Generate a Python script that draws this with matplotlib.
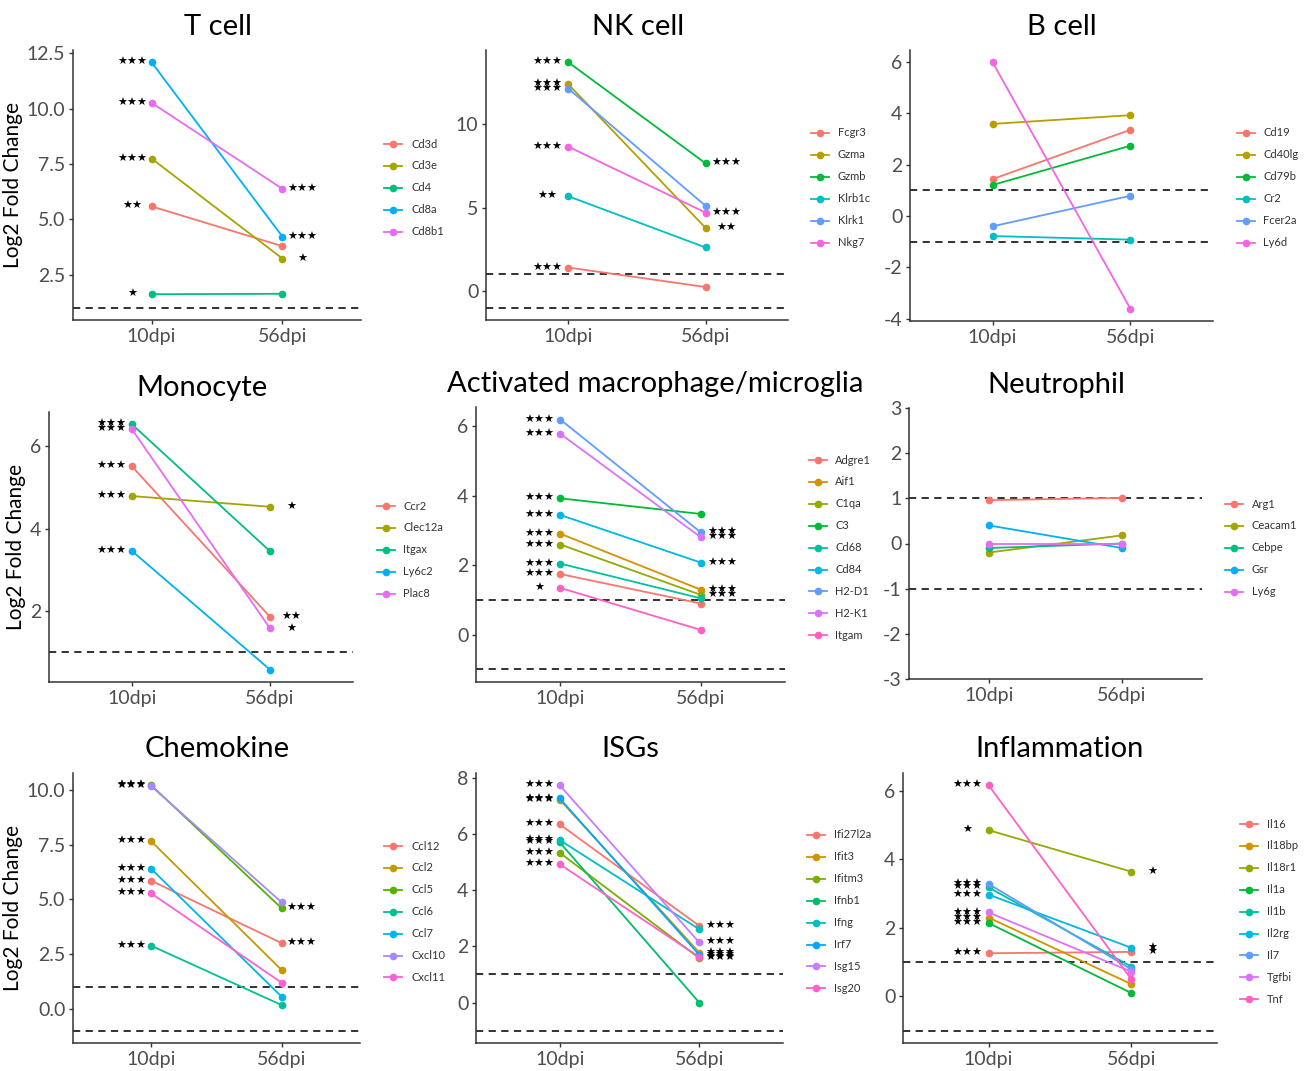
import matplotlib
matplotlib.use("Agg")
import matplotlib.pyplot as plt
from matplotlib.lines import Line2D

plt.rcParams["font.family"] = ["Lato", "DejaVu Sans"]

W, H = 1314, 1071
timepoints = ["10dpi", "56dpi"]

# ---- data (log2 fold change at 10dpi / 56dpi, significance stars) ----
tcell_genes = ["Cd3d", "Cd3e", "Cd4", "Cd8a", "Cd8b1"]
tcell_10 = [5.58, 7.74, 1.61, 12.09, 10.26]
tcell_56 = [3.78, 3.22, 1.63, 4.21, 6.37]
tcell_sig10 = ["**", "***", "*", "***", "***"]
tcell_sig56 = ["", "*", "", "***", "***"]

nk_genes = ["Fcgr3", "Gzma", "Gzmb", "Klrb1c", "Klrk1", "Nkg7"]
nk_10 = [1.41, 12.39, 13.71, 5.68, 12.13, 8.65]
nk_56 = [0.24, 3.78, 7.65, 2.61, 5.10, 4.70]
nk_sig10 = ["***", "***", "***", "**", "***", "***"]
nk_sig56 = ["", "**", "***", "", "", "***"]

bcell_genes = ["Cd19", "Cd40lg", "Cd79b", "Cr2", "Fcer2a", "Ly6d"]
bcell_10 = [1.44, 3.59, 1.21, -0.78, -0.40, 5.99]
bcell_56 = [3.36, 3.93, 2.74, -0.92, 0.79, -3.61]
bcell_sig10 = ["", "", "", "", "", ""]
bcell_sig56 = ["", "", "", "", "", ""]

mono_genes = ["Ccr2", "Clec12a", "Itgax", "Ly6c2", "Plac8"]
mono_10 = [5.51, 4.79, 6.53, 3.46, 6.41]
mono_56 = [1.86, 4.53, 3.45, 0.58, 1.58]
mono_sig10 = ["***", "***", "***", "***", "***"]
mono_sig56 = ["**", "*", "", "", "*"]

mac_genes = ["Adgre1", "Aif1", "C1qa", "C3", "Cd68", "Cd84", "H2-D1", "H2-K1", "Itgam"]
mac_10 = [1.75, 2.91, 2.60, 3.93, 2.05, 3.45, 6.20, 5.79, 1.35]
mac_56 = [0.90, 1.30, 1.15, 3.48, 1.05, 2.08, 2.95, 2.81, 0.14]
mac_sig10 = ["***", "***", "***", "***", "***", "***", "***", "***", "*"]
mac_sig56 = ["", "***", "***", "", "", "***", "***", "***", ""]

neut_genes = ["Arg1", "Ceacam1", "Cebpe", "Gsr", "Ly6g"]
neut_10 = [0.96, -0.20, -0.10, 0.40, 0.00]
neut_56 = [1.01, 0.18, 0.00, -0.10, 0.00]
neut_sig10 = ["", "", "", "", ""]
neut_sig56 = ["", "", "", "", ""]

chemo_genes = ["Ccl12", "Ccl2", "Ccl5", "Ccl6", "Ccl7", "Cxcl10", "Cxcl11"]
chemo_10 = [5.85, 7.65, 10.21, 2.88, 6.39, 10.17, 5.27]
chemo_56 = [3.00, 1.77, 4.59, 0.17, 0.55, 4.86, 1.19]
chemo_sig10 = ["***", "***", "***", "***", "***", "***", "***"]
chemo_sig56 = ["***", "", "***", "", "", "", ""]

isg_genes = ["Ifi27l2a", "Ifit3", "Ifitm3", "Ifnb1", "Ifng", "Irf7", "Isg15", "Isg20"]
isg_10 = [6.34, 7.22, 5.33, 5.70, 5.78, 7.26, 7.73, 4.92]
isg_56 = [2.73, 1.78, 1.58, 0.00, 2.61, 1.70, 2.14, 1.62]
isg_sig10 = ["***", "***", "***", "***", "***", "***", "***", "***"]
isg_sig56 = ["***", "***", "***", "", "", "***", "***", "***"]

infl_genes = ["Il16", "Il18bp", "Il18r1", "Il1a", "Il1b", "Il2rg", "Il7", "Tgfbi", "Tnf"]
infl_10 = [1.26, 2.30, 4.85, 2.14, 3.18, 2.97, 3.28, 2.45, 6.16]
infl_56 = [1.30, 0.36, 3.64, 0.10, 0.87, 1.42, 0.79, 0.72, 0.50]
infl_sig10 = ["***", "***", "*", "***", "***", "***", "***", "***", "***"]
infl_sig56 = ["*", "", "*", "", "", "*", "", "", ""]

# ggplot2 default hue palettes
hue = {
    5: ["#F8766D", "#A3A500", "#00BF7D", "#00B0F6", "#E76BF3"],
    6: ["#F8766D", "#B79F00", "#00BA38", "#00BFC4", "#619CFF", "#F564E3"],
    7: ["#F8766D", "#C49A00", "#53B400", "#00C094", "#00B6EB", "#A58AFF", "#FB61D7"],
    8: ["#F8766D", "#CD9600", "#7CAE00", "#00BE67", "#00BFC4", "#00A9FF", "#C77CFF", "#FF61CC"],
    9: ["#F8766D", "#D39200", "#93AA00", "#00BA38", "#00C19F", "#00B9E3", "#619CFF", "#DB72FB", "#FF61C3"],
}

# title, data, hlines, yticks, tick fmt, ylim override, axes box px, title (x, baseline), legend (key x, text x, first y), ylabel
panels = [
    ("T cell", tcell_genes, tcell_10, tcell_56, tcell_sig10, tcell_sig56, [1],
     [2.5, 5, 7.5, 10, 12.5], "{:.1f}", None, (73, 50, 361, 320), (218, 35), (393, 412, 144), True),
    ("NK cell", nk_genes, nk_10, nk_56, nk_sig10, nk_sig56, [1, -1],
     [0, 5, 10], "{:g}", None, (486, 50, 788, 320), (638, 35), (820, 838, 133), False),
    ("B cell", bcell_genes, bcell_10, bcell_56, bcell_sig10, bcell_sig56, [1, -1],
     [-4, -2, 0, 2, 4, 6], "{:g}", None, (910, 50, 1213, 321), (1062, 35), (1246, 1263, 133), False),
    ("Monocyte", mono_genes, mono_10, mono_56, mono_sig10, mono_sig56, [1],
     [2, 4, 6], "{:g}", None, (49, 412, 353, 682), (202, 396), (386, 403, 506), True),
    ("Activated macrophage/microglia", mac_genes, mac_10, mac_56, mac_sig10, mac_sig56, [1, -1],
     [0, 2, 4, 6], "{:g}", None, (476, 407, 785, 682), (655, 392), (818, 835, 460), False),
    ("Neutrophil", neut_genes, neut_10, neut_56, neut_sig10, neut_sig56, [1, -1],
     [-3, -2, -1, 0, 1, 2, 3], "{:g}", (-3, 3), (909, 408, 1202, 679), (1056, 393), (1234, 1252, 504), False),
    ("Chemokine", chemo_genes, chemo_10, chemo_56, chemo_sig10, chemo_sig56, [1, -1],
     [0, 2.5, 5, 7.5, 10], "{:.1f}", None, (73, 773, 360, 1043), (217, 757), (393, 411, 846), True),
    ("ISGs", isg_genes, isg_10, isg_56, isg_sig10, isg_sig56, [1, -1],
     [0, 2, 4, 6, 8], "{:g}", None, (476, 773, 783, 1043), (630, 757), (816, 834, 835), False),
    ("Inflammation", infl_genes, infl_10, infl_56, infl_sig10, infl_sig56, [1, -1],
     [0, 2, 4, 6], "{:g}", None, (903, 773, 1217, 1043), (1060, 757), (1249, 1267, 824), False),
]

fig = plt.figure(figsize=(W / 100, H / 100), dpi=100)

for (title, genes, v10, v56, s10, s56, hlines, yticks, fmt, ylim,
     box, tpos, lpos, ylab) in panels:
    l, t, r, b = box
    ax = fig.add_axes([l / W, 1 - b / H, (r - l) / W, (b - t) / H])
    cols = hue[len(genes)]
    for g, a, c, sa, sc, col in zip(genes, v10, v56, s10, s56, cols):
        ax.plot([1, 2], [a, c], color=col, lw=1.3, marker="o", ms=4.5, zorder=3)
        if sa:
            ax.text(0.85, a, sa.replace("*", "\u2605"), ha="center", va="center",
                    fontsize=8, family="DejaVu Sans", color="black")
        if sc:
            ax.text(2.15, c, sc.replace("*", "\u2605"), ha="center", va="center",
                    fontsize=8, family="DejaVu Sans", color="black")
    for h in hlines:
        ax.axhline(h, color="#222222", lw=1.3, ls=(0, (4, 3)), zorder=2)
    if ylim is None:
        lo = min(v10 + v56 + hlines)
        hi = max(v10 + v56 + hlines)
        pad = (hi - lo) * 0.05
        ylim = (lo - pad, hi + pad)
    ax.set_ylim(*ylim)
    ax.set_xlim(0.4, 2.6)
    ax.set_xticks([1, 2])
    ax.set_xticklabels(timepoints)
    ax.set_yticks(yticks)
    ax.set_yticklabels([fmt.format(v) for v in yticks])
    for s in ["top", "right"]:
        ax.spines[s].set_visible(False)
    for s in ["left", "bottom"]:
        ax.spines[s].set_color("#333333")
        ax.spines[s].set_linewidth(1.1)
    ax.tick_params(length=3, width=1, color="#333333", labelcolor="#4D4D4D",
                   labelsize=14, pad=2.5)
    if ylab:
        ax.set_ylabel("Log2 Fold Change", fontsize=15, color="black", labelpad=3)

    fig.text(tpos[0] / W, 1 - tpos[1] / H, title, ha="center", va="baseline",
             fontsize=21, color="black")

    kx, tx, y0 = lpos
    for i, (g, col) in enumerate(zip(genes, cols)):
        yy = 1 - (y0 + i * 21.9) / H
        fig.add_artist(Line2D([(kx - 9) / W, (kx + 9) / W], [yy, yy], color=col, lw=1.3,
                              transform=fig.transFigure))
        fig.add_artist(Line2D([kx / W], [yy], color=col, marker="o", ms=4.5,
                              transform=fig.transFigure))
        fig.text(tx / W, yy, g, ha="left", va="center", fontsize=8, color="#333333")

fig.savefig("out.png", dpi=100, facecolor="white")
